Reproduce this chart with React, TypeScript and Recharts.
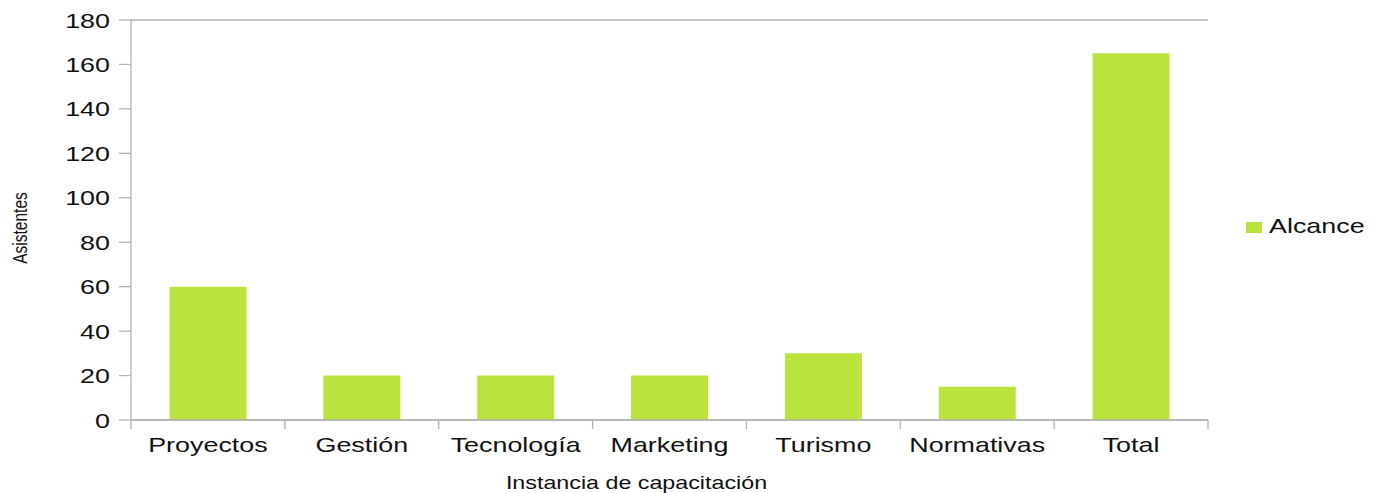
import React from "react";
import { BarChart, Bar, XAxis, YAxis, CartesianGrid, Legend } from "recharts";

const categories = ["Proyectos", "Gestión", "Tecnología", "Marketing", "Turismo", "Normativas", "Total"];
const alcance = [60, 20, 20, 20, 30, 15, 165];
const yTicks = [0, 20, 40, 60, 80, 100, 120, 140, 160, 180];
const seriesName = "Alcance";
const xTitle = "Instancia de capacitación";
const yTitle = "Asistentes";

const data = categories.map((c, i) => ({ name: c, value: alcance[i] }));

const FONT = "'Liberation Sans', Arial, sans-serif";
const BAR = "#bbe33d";
const GRID = "#b3b3b3";
const SX = 1.28;

const YTick = (props: any) => {
  const { x, y, payload } = props;
  return (
    <g transform={`translate(${x},${y})`}>
      <text textAnchor="end" dy="0.36em" transform={`scale(${SX},1)`} fontFamily={FONT} fontSize={21} fill="#111">
        {payload.value}
      </text>
    </g>
  );
};

const XTick = (props: any) => {
  const { x, y, payload, index, visibleTicksCount } = props;
  const off = payload.offset ?? 0;
  return (
    <g>
      <line x1={x - off} x2={x - off} y1={y} y2={y + 9} stroke={GRID} strokeWidth={1.3} />
      {index === visibleTicksCount - 1 && (
        <line x1={x + off} x2={x + off} y1={y} y2={y + 9} stroke={GRID} strokeWidth={1.3} />
      )}
      <g transform={`translate(${x},${y + 32})`}>
        <text textAnchor="middle" transform={`scale(${SX},1)`} fontFamily={FONT} fontSize={21} fill="#111">
          {payload.value}
        </text>
      </g>
    </g>
  );
};

const XTitle = (props: any) => {
  const vb = props.viewBox || {};
  const cx = vb.x + vb.width / 2 - 33;
  return (
    <g transform={`translate(${cx},${vb.y + 69})`}>
      <text textAnchor="middle" transform="scale(1.33,1)" fontFamily={FONT} fontSize={17.5} fill="#111">
        {xTitle}
      </text>
    </g>
  );
};

const YTitle = (props: any) => {
  const vb = props.viewBox || {};
  const cy = vb.y + vb.height / 2 + 8;
  return (
    <g transform={`translate(27,${cy}) scale(1.28,1) rotate(-90)`}>
      <text textAnchor="middle" fontFamily={FONT} fontSize={15.5} fill="#111">
        {yTitle}
      </text>
    </g>
  );
};

const LegendContent = () => (
  <svg width={140} height={30} style={{ overflow: "visible" }}>
    <rect x={6} y={12} width={16} height={11} fill={BAR} />
    <g transform="translate(29,23)">
      <text transform={`scale(${SX},1)`} fontFamily={FONT} fontSize={21} fill="#111">
        {seriesName}
      </text>
    </g>
  </svg>
);

export default function App() {
  return (
    <div style={{ position: "absolute", left: 0, top: 0, width: 1378, height: 493, background: "#fff" }}>
      <BarChart
        width={1378}
        height={493}
        data={data}
        margin={{ top: 20, right: 30, bottom: 0, left: 0 }}
        barCategoryGap="25%"
      >
        <CartesianGrid horizontal={true} vertical={false} stroke={GRID} strokeWidth={1.3} />
        <XAxis
          dataKey="name"
          height={73}
          tick={<XTick />}
          tickLine={false}
          tickSize={0}
          tickMargin={0}
          axisLine={{ stroke: GRID, strokeWidth: 1.3 }}
          interval={0}
          label={<XTitle />}
        />
        <YAxis
          yAxisId="left"
          width={131}
          domain={[0, 180]}
          ticks={yTicks}
          interval={0}
          tick={<YTick />}
          tickSize={12}
          tickMargin={9}
          tickLine={{ stroke: GRID, strokeWidth: 1.3 }}
          axisLine={{ stroke: GRID, strokeWidth: 1.3 }}
          label={<YTitle />}
        />
        <YAxis
          yAxisId="right"
          orientation="right"
          width={0}
          domain={[0, 180]}
          tick={false}
          tickLine={false}
          axisLine={{ stroke: GRID, strokeWidth: 1.3 }}
        />
        <Legend
          layout="horizontal"
          verticalAlign="middle"
          align="right"
          content={<LegendContent />}
          wrapperStyle={{ left: 1240, top: 210, width: 140, height: 30, right: "auto", bottom: "auto" }}
        />
        <Bar yAxisId="left" dataKey="value" name={seriesName} fill={BAR} isAnimationActive={false} />
      </BarChart>
    </div>
  );
}
